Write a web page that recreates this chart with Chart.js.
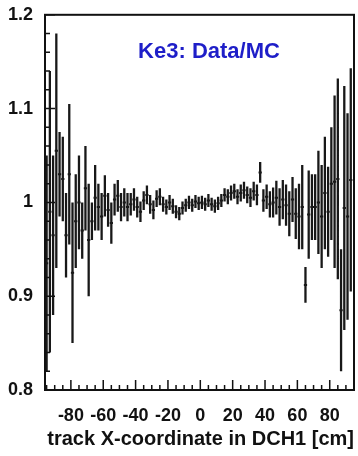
<!DOCTYPE html>
<html>
<head>
<meta charset="utf-8">
<script src="https://cdn.jsdelivr.net/npm/chart.js@4.4.0/dist/chart.umd.min.js"></script>
<style>
  html, body { margin: 0; padding: 0; background: #fff; }
  #wrap { width: 358px; height: 456px; position: relative; }
</style>
</head>
<body>
<div id="wrap"><canvas id="c"></canvas></div>
<script>
// bin centres (cm), Data/MC ratio and its error
const binX = [
  -95, -93, -91, -89, -87, -85, -83, -81, -79, -77,
  -75, -73, -71, -69, -67, -65, -63, -61, -59, -57,
  -55, -53, -51, -49, -47, -45, -43, -41, -39, -37,
  -35, -33, -31, -29, -27, -25, -23, -21, -19, -17,
  -15, -13, -11, -9, -7, -5, -3, -1, 1, 3,
  5, 7, 9, 11, 13, 15, 17, 19, 21, 23,
  25, 27, 29, 31, 33, 35, 37, 39, 41, 43,
  45, 47, 49, 51, 53, 55, 57, 59, 61, 63,
  65, 67, 69, 71, 73, 75, 77, 79, 81, 83,
  85, 87, 89, 91, 93
];
const ratio = [
  0.935, 0.99, 0.965, 1.055, 1.03, 1.025, 0.965, 1.03, 0.925, 0.98,
  1.0, 0.97, 1.015, 0.96, 0.98, 1.005, 0.995, 0.985, 1.007, 0.992,
  0.978, 1.003, 1.007, 0.995, 1.0, 0.995, 0.998, 1.003, 0.995, 0.99,
  1.002, 1.008, 0.998, 0.992, 1.004, 1.006, 0.998, 0.995, 1.0, 0.996,
  0.99, 0.988, 0.994, 0.997, 1.0, 0.997, 1.001, 0.999, 1.0, 0.998,
  1.002, 0.998, 0.996, 0.999, 1.002, 1.008, 1.006, 1.01, 1.012, 1.006,
  1.01, 1.013, 1.008, 1.005, 1.012, 1.008, 1.032, 1.002, 1.006, 0.998,
  1.0, 1.005, 0.995, 1.003, 0.997, 0.988, 1.003, 0.988, 0.985, 0.995,
  0.912, 0.987, 0.995, 0.995, 1.0, 0.985, 1.01, 0.99, 1.02, 1.022,
  1.025, 0.885, 0.994, 0.985, 1.024
];
const ratioErr = [
  0.115, 0.15, 0.085, 0.125, 0.045, 0.045, 0.045, 0.075, 0.075, 0.05,
  0.05, 0.03, 0.045, 0.06, 0.02, 0.035, 0.025, 0.025, 0.022, 0.018,
  0.022, 0.017, 0.017, 0.015, 0.015, 0.015, 0.012, 0.012, 0.011, 0.011,
  0.01, 0.01, 0.01, 0.01, 0.009, 0.009, 0.008, 0.008, 0.008, 0.008,
  0.007, 0.007, 0.007, 0.007, 0.007, 0.007, 0.007, 0.007, 0.007, 0.007,
  0.007, 0.007, 0.007, 0.007, 0.007, 0.007, 0.008, 0.008, 0.008, 0.008,
  0.009, 0.009, 0.009, 0.01, 0.01, 0.011, 0.011, 0.012, 0.013, 0.014,
  0.016, 0.018, 0.02, 0.021, 0.022, 0.024, 0.024, 0.027, 0.035, 0.045,
  0.019, 0.047, 0.035, 0.035, 0.055, 0.055, 0.06, 0.048, 0.06, 0.092,
  0.107, 0.065, 0.13, 0.11, 0.119
];
const binWidth = 2;

const xTicks = [-80, -60, -40, -20, 0, 20, 40, 60, 80];
const yTicks = [0.8, 0.9, 1.0, 1.1, 1.2];
const xRange = [-96, 95];
const yRange = [0.8, 1.2];
const titleText = 'Ke3: Data/MC';
const xTitle = 'track X-coordinate in DCH1 [cm]';

// error bars: vertical segment per bin, broken by nulls
const vertSegs = [];
const horizSegs = [];
binX.forEach((x, i) => {
  vertSegs.push({ x: x, y: ratio[i] - ratioErr[i] });
  vertSegs.push({ x: x, y: ratio[i] + ratioErr[i] });
  vertSegs.push({ x: x, y: null });
  horizSegs.push({ x: x - binWidth / 2, y: ratio[i] });
  horizSegs.push({ x: x + binWidth / 2, y: ratio[i] });
  horizSegs.push({ x: x, y: null });
});

const font = 'Liberation Sans, Arial, sans-serif';

// frame, inward ticks and the blue label, ROOT style
const rootFrame = {
  id: 'rootFrame',
  afterDraw(chart) {
    const { ctx, chartArea: a, scales } = chart;
    const xs = scales.x, ys = scales.y;
    ctx.save();
    ctx.strokeStyle = '#111';
    ctx.lineWidth = 1.5;
    ctx.beginPath();
    for (let v = -95; v <= 95; v += 5) {
      const px = xs.getPixelForValue(v);
      const len = xTicks.includes(v) ? 10 : 5;
      ctx.moveTo(px, a.bottom);
      ctx.lineTo(px, a.bottom - len);
    }
    for (let k = 0; k <= 20; k++) {
      const v = 0.8 + k * 0.02;
      const py = ys.getPixelForValue(v);
      const len = k % 5 === 0 ? 10 : 5;
      ctx.moveTo(a.left, py);
      ctx.lineTo(a.left + len, py);
    }
    ctx.stroke();
    ctx.lineWidth = 2;
    ctx.strokeRect(a.left, a.top, a.right - a.left, a.bottom - a.top);

    ctx.fillStyle = '#1e1ec8';
    ctx.font = 'bold 22px ' + font;
    ctx.textAlign = 'center';
    ctx.textBaseline = 'alphabetic';
    ctx.fillText(titleText, 209, 58);
    ctx.restore();
  }
};

new Chart(document.getElementById('c'), {
  type: 'line',
  data: {
    datasets: [
      {
        data: vertSegs,
        borderColor: '#181818',
        borderWidth: 2.3,
        pointRadius: 0,
        spanGaps: false,
        tension: 0
      },
      {
        data: horizSegs,
        borderColor: '#181818',
        borderWidth: 2,
        pointRadius: 0,
        spanGaps: false,
        tension: 0
      }
    ]
  },
  options: {
    responsive: true,
    maintainAspectRatio: false,
    animation: false,
    layout: { padding: { top: 12, right: 4, left: 0, bottom: 0 } },
    plugins: {
      legend: { display: false },
      tooltip: { enabled: false }
    },
    scales: {
      x: {
        type: 'linear',
        min: xRange[0],
        max: xRange[1],
        grid: { display: false },
        border: { display: false },
        afterBuildTicks: s => { s.ticks = xTicks.map(v => ({ value: v })); },
        afterFit: s => { s.height = 66; },
        ticks: {
          color: '#111',
          padding: 7,
          maxRotation: 0,
          autoSkip: false,
          font: { family: font, size: 18, weight: 'bold' },
          callback: v => String(v)
        },
        title: {
          display: true,
          text: xTitle,
          color: '#111',
          padding: { top: 2, bottom: 5 },
          font: { family: font, size: 20, weight: 'bold' },
          align: 'end'
        }
      },
      y: {
        type: 'linear',
        min: yRange[0],
        max: yRange[1],
        grid: { display: false },
        border: { display: false },
        afterBuildTicks: s => { s.ticks = yTicks.map(v => ({ value: v })); },
        afterFit: s => { s.width = 45; },
        ticks: {
          color: '#111',
          padding: 4,
          font: { family: font, size: 18, weight: 'bold' },
          callback: v => String(+v.toFixed(2))
        }
      }
    }
  },
  plugins: [rootFrame]
});
</script>
</body>
</html>
